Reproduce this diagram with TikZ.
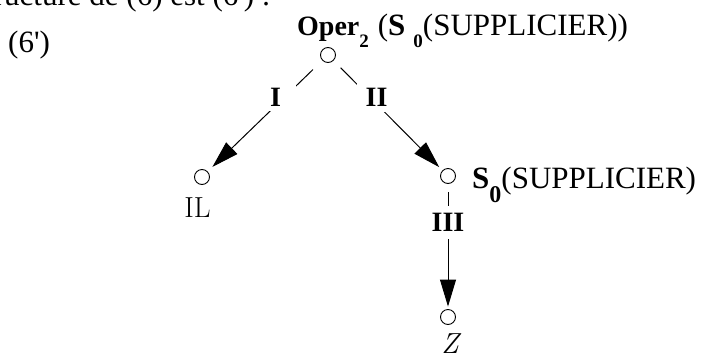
\documentclass[tikz,border=0pt]{standalone}
\usepackage{fontspec}
\newfontfamily\tms{Liberation Serif}
\usetikzlibrary{arrows.meta}
\tikzset{
  vtx/.style={circle, draw, line width=0.9pt, minimum size=15pt, inner sep=0pt},
  arr/.style={line width=1pt, -{Triangle[length=27pt,width=16pt]}},
  lab/.style={fill=white, inner sep=0pt, minimum width=28pt, minimum height=28pt,
              font=\tms\bfseries\fontsize{28}{30}\selectfont},
  txt/.style={inner sep=0pt, font=\tms\fontsize{31}{34}\selectfont},
  lmtxt/.style={inner sep=0pt, font=\fontsize{29}{32}\selectfont},
}
\newcommand\subbf[2]{\raisebox{-#1}{\fontsize{#2}{#2}\selectfont\bfseries}}
\begin{document}
\begin{tikzpicture}[x=1pt,y=-1pt]
\useasboundingbox (0,0) rectangle (702,354);
\clip (0,0) rectangle (702,354);
% clipped line of running text above the figure
\node[txt, anchor=base west] (hdr) at (-27,5) {structure de (6) est (6') :};
% example number
\node[txt, anchor=base west] (num) at (8,52) {(6')};
% vertices
\node[vtx] (top) at (328,55) {};
\node[vtx] (il) at (202,177) {};
\node[vtx] (s0) at (448,176) {};
\node[vtx] (z) at (448,317) {};
% vertex labels
\node[txt, anchor=base west] (toplab) at (297,35)
  {{\fontsize{28}{30}\selectfont\bfseries Oper}\raisebox{-12pt}{\fontsize{19}{20}\selectfont\bfseries 2}\hspace{9pt}(\textbf{S}\hspace{8pt}\raisebox{-12pt}{\fontsize{19}{20}\selectfont\bfseries 0}(SUPPLICIER))};
\node[txt, anchor=base west] (s0lab) at (472,188)
  {\textbf{S}\raisebox{-14pt}{\fontsize{24}{26}\selectfont\bfseries 0}(SUPPLICIER)};
\node[lmtxt, anchor=base] (ilab) at (197.5,217) {IL};
\node[lmtxt, anchor=base, font=\fontsize{29}{32}\selectfont\itshape] (zlab) at (450,353) {Z};
% dependency arcs
\draw[arr, shorten <=13pt, shorten >=6.5pt] (top) -- node[lab, pos=0.33, xshift=-9pt, minimum width=42pt] (lI) {I} (il);
\draw[arr, shorten <=10pt, shorten >=4.5pt] (top) -- node[lab, pos=0.33, xshift=7pt, minimum width=40pt, minimum height=30pt] (lII) {II} (s0);
\draw[arr, shorten <=8.5pt, shorten >=2.5pt] (s0) -- node[lab, pos=0.31, minimum height=33pt] (lIII) {III} (z);
\end{tikzpicture}
\end{document}
